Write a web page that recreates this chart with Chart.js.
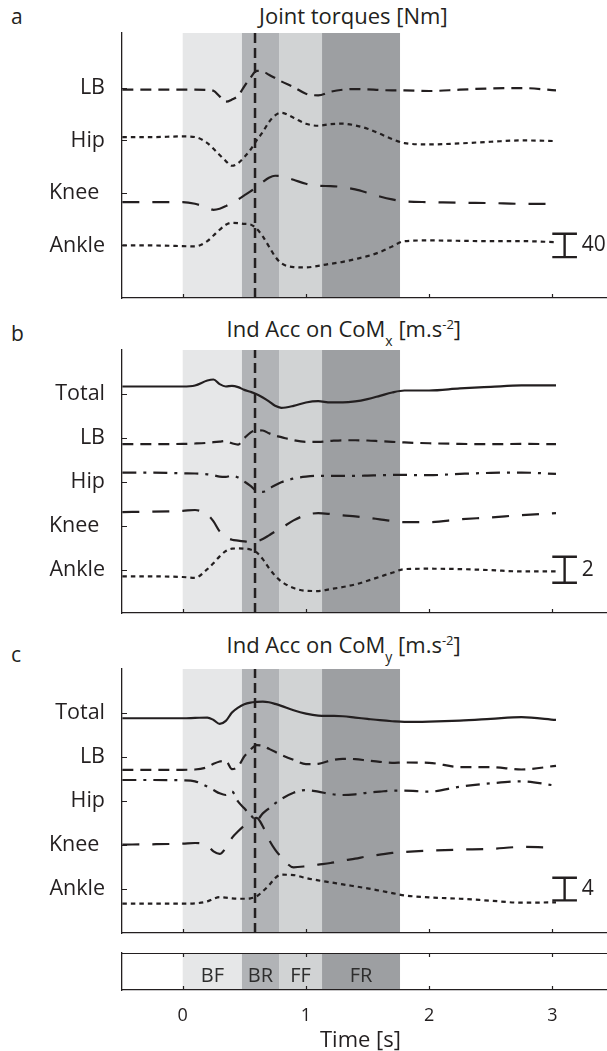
<!DOCTYPE html>
<html>
<head>
<meta charset="utf-8">
<title>Joint torques and induced accelerations</title>
<script src="https://cdn.jsdelivr.net/npm/chart.js@4.4.1/dist/chart.umd.min.js"></script>
<style>
  html, body { margin: 0; padding: 0; background: #fff; }
  body { position: relative; width: 607px; height: 1051px; overflow: hidden;
         font-family: "Open Sans", sans-serif; color: #231f20; }
  canvas { position: absolute; left: 0; }
  .txt { position: absolute; white-space: nowrap; line-height: 1; font-size: 22px; }
  .sb { font-size: 14px; position: relative; top: 9px; }
  .sp { font-size: 13px; position: relative; top: -8px; }
</style>
</head>
<body>
<div class="txt" style="left:11px;top:6.4px;font-size:21px">a</div>
<div class="txt" style="left:259px;top:3.5px">Joint torques [Nm]</div>
<canvas id="panelA" width="607" height="285" style="top:23px"></canvas>

<div class="txt" style="left:11px;top:323px;font-size:21px">b</div>
<div class="txt" style="left:226.5px;top:316.5px">Ind Acc on CoM<span class="sb">x</span> [m.s<span class="sp">-2</span>]</div>
<canvas id="panelB" width="607" height="283" style="top:340px"></canvas>

<div class="txt" style="left:11px;top:644px;font-size:21px">c</div>
<div class="txt" style="left:226.5px;top:633px">Ind Acc on CoM<span class="sb">y</span> [m.s<span class="sp">-2</span>]</div>
<canvas id="panelC" width="607" height="284" style="top:659px"></canvas>

<canvas id="phaseBar" width="607" height="108" style="top:943px"></canvas>
<div class="txt" style="left:320px;top:1027px">Time [s]</div>

<script>
// ---------- data ----------
const time = [-0.49, -0.25, 0, 0.1, 0.2, 0.25, 0.3, 0.35, 0.4, 0.45, 0.5, 0.55, 0.6, 0.65, 0.7, 0.75,
              0.8, 0.9, 1.0, 1.1, 1.2, 1.3, 1.4, 1.5, 1.6, 1.7, 1.8, 2.0, 2.25, 2.5, 2.75, 3.03];

const phaseNames = ['BF', 'BR', 'FF', 'FR'];
const phaseStart = [0, 0.481, 0.782, 1.131];
const phaseEnd = [0.481, 0.782, 1.131, 1.764];
const phaseColors = ['#e6e7e8', '#b1b3b6', '#d1d3d4', '#9d9fa2'];
const eventTime = 0.587;

const xTicks = [0, 1, 2, 3];
const xTickLabels = ['0', '1', '2', '3'];

// a - joint torques [Nm], each curve relative to its own row
const torqueLabels = ['Ankle', 'Knee ', 'Hip', 'LB'];
const torqueRows = [90, 180, 270, 360];
const torqueLB = [-3, -3, -3, -3, -3.5, -5, -14.6, -23.7, -20, -13.4, 2.6, 17.4, 29, 28, 22.6, 16.9,
                  11.1, 1.4, -10, -12.9, -6.6, -3.1, -2, -2.6, -3.7, -4.3, -4.3, -5.4, -3.1, -0.9, -0.3, -4.3];
const torqueHip = [5.7, 5.7, 6.9, 5.7, -4.6, -14.3, -25.1, -35.4, -43.4, -38.9, -28.6, -16, 0, 14.3, 31.4, 42.9,
                   47.4, 38.9, 28.6, 25.1, 28, 28.6, 25.7, 20, 11.4, 2.3, -4.6, -6.9, -5.1, -2.3, 0, -1.1];
const torqueKnee = [-15.7, -15.7, -15.7, -18.6, -25.4, -28.9, -27.1, -22.6, -16.9, -11.1, -4.3, 2.6, 10, 18.6, 26, 29.4,
                    28.9, 22.6, 15.7, 12.3, 11.7, 10, 6, 0.3, -6, -11.1, -14.6, -15.7, -16.9, -17.4, -18.6, -18.6];
const torqueAnkle = [0, 0, -1.1, -1.7, 7.4, 17.1, 26.9, 35.4, 38.9, 38.3, 37.1, 36, 28.6, 15.4, -1.7, -18.9,
                     -30.3, -37.1, -37.7, -34.9, -31.4, -28, -23.4, -18.3, -11.4, -1.7, 7.4, 8.6, 8, 7.4, 7.4, 5.7];
const torqueBar = 40;

// b - induced acceleration on CoM x [m/s2]
const accLabels = ['Ankle', 'Knee ', 'Hip', 'LB', 'Total'];
const accxRows = [3.33, 6.72, 10.12, 13.51, 16.85];
const accxTotal = [0.59, 0.59, 0.59, 0.67, 1.05, 1.13, 0.77, 0.59, 0.64, 0.54, 0.33, 0.18, 0, -0.26, -0.56, -0.9,
                   -1.05, -0.9, -0.64, -0.54, -0.64, -0.64, -0.56, -0.38, -0.13, 0.13, 0.28, 0.28, 0.44, 0.56, 0.67, 0.67];
const accxLB = [-0.51, -0.51, -0.49, -0.46, -0.41, -0.36, -0.31, -0.26, -0.44, -0.54, -0.05, 0.38, 0.56, 0.54, 0.33, 0.15,
                0.03, -0.21, -0.33, -0.33, -0.26, -0.21, -0.21, -0.23, -0.28, -0.33, -0.38, -0.44, -0.49, -0.51, -0.49, -0.51];
const accxHip = [0.69, 0.69, 0.64, 0.62, 0.56, 0.49, 0.38, 0.36, 0.46, 0.31, 0, -0.33, -0.72, -0.79, -0.54, -0.28,
                 -0.05, 0.23, 0.38, 0.44, 0.44, 0.44, 0.44, 0.46, 0.49, 0.51, 0.51, 0.49, 0.59, 0.67, 0.69, 0.59];
const accxKnee = [1.05, 1.08, 1.15, 1.21, 0.85, 0.33, -0.44, -0.87, -1.08, -1.15, -1.21, -1.26, -1.21, -1.03, -0.74, -0.44,
                  -0.18, 0.41, 0.82, 0.97, 0.9, 0.79, 0.72, 0.62, 0.49, 0.36, 0.28, 0.28, 0.49, 0.64, 0.82, 0.97];
const accxAnkle = [-0.51, -0.51, -0.56, -0.62, 0.05, 0.51, 1.03, 1.44, 1.62, 1.64, 1.62, 1.56, 1.33, 0.82, 0.13, -0.46,
                   -0.9, -1.41, -1.62, -1.64, -1.49, -1.33, -1.13, -0.85, -0.54, -0.23, 0.05, 0.08, 0.05, -0.03, -0.13, -0.13];
const accxBar = 2;

// c - induced acceleration on CoM y [m/s2]
const accyRows = [7.76, 15.6, 23.3, 31.1, 38.85];
const accyTotal = [-0.94, -0.94, -0.94, -0.88, -0.82, -1.24, -1.94, -1.41, 0.06, 0.94, 1.53, 1.82, 1.94, 2, 1.88, 1.59,
                   1.24, 0.47, -0.12, -0.47, -0.53, -0.59, -0.82, -1.06, -1.29, -1.47, -1.59, -1.53, -1.35, -1.06, -0.76, -1.24];
const accyLB = [-2.29, -2.29, -2.29, -2.24, -1.82, -1.24, -0.82, -0.71, -2.18, -1.71, 0.06, 1.24, 2.06, 1.94, 1.41, 0.88,
                0.35, -0.53, -1.29, -1.24, -0.65, -0.35, -0.41, -0.65, -0.88, -1.06, -1, -1.06, -1.82, -1.82, -2.24, -1.59];
const accyHip = [3.71, 3.71, 3.65, 3.47, 2.53, 1.94, 1.35, 1.06, 1.65, -0.12, -1.29, -2.47, -3.35, -2.18, -1.29, -0.41,
                 0.35, 1.47, 1.94, 1.65, 1.24, 1.06, 1.18, 1.47, 1.65, 1.82, 1.82, 1.65, 2.53, 3.12, 3.47, 2.71];
const accyKnee = [0, 0.06, 0.18, 0.29, -0.18, -1.18, -1.65, -0.59, 1.18, 2.35, 3.35, 4.12, 4.71, 3.24, 0.88, -0.88,
                  -2.18, -4, -3.82, -3.53, -3.24, -2.82, -2.47, -2.06, -1.76, -1.47, -1.29, -1.06, -0.88, -0.76, -0.41, -0.53];
const accyAnkle = [-2.59, -2.59, -2.59, -2.53, -2.18, -1.71, -1.41, -1.53, -1.65, -1.71, -1.71, -1.65, -1.29, -0.41, 0.65, 1.94,
                   2.53, 2.47, 1.94, 1.53, 1.18, 0.82, 0.47, 0.12, -0.29, -0.71, -1.12, -1.47, -1.71, -2.06, -2.41, -2.35];
const accyBar = 4;

// ---------- styling ----------
const ink = '#231f20';
const DOT = [4.5, 4], DASH = [11, 7], LONG = [17, 13], DASHDOT = [14, 7, 3, 7], SOLID = [];
const xMin = -0.4927, xMax = 3.444;
const barX = [3.0, 3.1, 3.2];
const barLabelX = 3.24;

Chart.defaults.font.family = '"Open Sans", sans-serif';
Chart.defaults.color = ink;

// phase shading behind everything
const phasePlugin = {
  id: 'phases',
  beforeDraw(chart) {
    const { ctx, chartArea: a, scales: { x } } = chart;
    ctx.save();
    phaseStart.forEach((s, i) => {
      const x0 = x.getPixelForValue(s), x1 = x.getPixelForValue(phaseEnd[i]);
      ctx.fillStyle = phaseColors[i];
      ctx.fillRect(x0, a.top, x1 - x0, a.bottom - a.top);
    });
    ctx.restore();
  }
};

// matlab style ticks pointing into the axes
const tickPlugin = {
  id: 'inTicks',
  afterDraw(chart, args, opts) {
    const { ctx, chartArea: a, scales: { x, y } } = chart;
    ctx.save();
    ctx.strokeStyle = ink;
    ctx.lineWidth = 1.2;
    ctx.beginPath();
    xTicks.forEach(v => {
      const px = Math.round(x.getPixelForValue(v)) + 0.5;
      ctx.moveTo(px, a.bottom); ctx.lineTo(px, a.bottom - 4);
      if (opts.top) { ctx.moveTo(px, a.top); ctx.lineTo(px, a.top + 4); }
    });
    if (!opts.noY) {
      y.ticks.forEach(t => {
        const py = Math.round(y.getPixelForValue(t.value)) + 0.5;
        ctx.moveTo(a.left, py); ctx.lineTo(a.left + 5, py);
      });
    }
    if (opts.top) { ctx.moveTo(a.left, a.top + 0.5); ctx.lineTo(a.right, a.top + 0.5); }
    ctx.stroke();
    ctx.restore();
  }
};

// text next to the scale bar, or the phase names in the bottom strip
const textPlugin = {
  id: 'extraText',
  afterDraw(chart, args, opts) {
    const { ctx, chartArea: a, scales: { x, y } } = chart;
    ctx.save();
    ctx.fillStyle = ink;
    if (opts.bar) {
      ctx.font = '21px "Open Sans"';
      ctx.textAlign = 'left';
      ctx.textBaseline = 'middle';
      ctx.fillText(opts.bar.text, x.getPixelForValue(barLabelX), y.getPixelForValue(opts.bar.value));
    }
    if (opts.phases) {
      ctx.font = '20px "Open Sans"';
      ctx.fillStyle = '#2e2e2e';
      ctx.textAlign = 'center';
      ctx.textBaseline = 'alphabetic';
      phaseNames.forEach((n, i) => {
        ctx.fillText(n, x.getPixelForValue((phaseStart[i] + phaseEnd[i]) / 2), a.bottom - 8.5);
      });
    }
    ctx.restore();
  }
};

function xScale(showLabels) {
  return {
    type: 'linear', min: xMin, max: xMax,
    grid: { display: false, drawTicks: false },
    border: { display: true, color: ink, width: 1.3 },
    ticks: {
      display: showLabels, autoSkip: false, padding: 15, font: { size: 18 }, color: ink,
      callback: (v, i) => xTickLabels[i]
    },
    afterBuildTicks: s => { s.ticks = xTicks.map(v => ({ value: v })); },
    afterFit: s => { s.height = showLabels ? 61 : 0; s.paddingLeft = 0; s.paddingRight = 0; }
  };
}

function curve(rowValue, values, dash) {
  return {
    data: time.map((t, k) => ({ x: t, y: rowValue + values[k] })),
    borderColor: ink, borderWidth: 2.2, borderDash: dash,
    cubicInterpolationMode: 'monotone', pointRadius: 0, fill: false
  };
}

function drawPanel(id, p) {
  const datasets = p.series.map((vals, i) => curve(p.rows[i], vals, p.dashes[i]));
  const lo = p.rows[0] - p.bar / 2, hi = p.rows[0] + p.bar / 2;
  // event marker
  datasets.push({
    data: [{ x: eventTime, y: 0 }, { x: eventTime, y: p.ymax }],
    borderColor: ink, borderWidth: 2.5, borderDash: [10, 5], tension: 0, pointRadius: 0
  });
  // scale bar (I shape)
  datasets.push({
    data: [{ x: barX[0], y: lo }, { x: barX[2], y: lo }, { x: barX[1], y: null },
           { x: barX[1], y: lo }, { x: barX[1], y: hi }, { x: barX[1], y: null },
           { x: barX[0], y: hi }, { x: barX[2], y: hi }],
    borderColor: ink, borderWidth: 2.4, tension: 0, pointRadius: 0, spanGaps: false
  });

  new Chart(document.getElementById(id), {
    type: 'line',
    data: { datasets },
    options: {
      responsive: false, animation: false, devicePixelRatio: 1,
      layout: { padding: { top: 10, bottom: 10, left: 0, right: 0 } },
      plugins: {
        legend: { display: false }, tooltip: { enabled: false },
        inTicks: {}, extraText: { bar: { text: String(p.bar), value: p.rows[0] } }
      },
      scales: {
        x: xScale(false),
        y: {
          type: 'linear', min: 0, max: p.ymax,
          grid: { display: false, drawTicks: false },
          border: { display: true, color: ink, width: 1.3 },
          ticks: { autoSkip: false, padding: 17, font: { size: 21.5 }, color: ink,
                   callback: (v, i) => p.labels[i] },
          afterBuildTicks: s => { s.ticks = p.rows.map(v => ({ value: v })); },
          afterFit: s => { s.width = 122; s.paddingTop = 0; s.paddingBottom = 0; }
        }
      }
    },
    plugins: [phasePlugin, tickPlugin, textPlugin]
  });
}

drawPanel('panelA', {
  rows: torqueRows, labels: torqueLabels, ymax: 454, bar: torqueBar,
  series: [torqueAnkle, torqueKnee, torqueHip, torqueLB],
  dashes: [DOT, LONG, DOT, DASH]
});

drawPanel('panelB', {
  rows: accxRows, labels: accLabels, ymax: 20.25, bar: accxBar,
  series: [accxAnkle, accxKnee, accxHip, accxLB, accxTotal],
  dashes: [DOT, LONG, DASHDOT, DASH, SOLID]
});

drawPanel('panelC', {
  rows: accyRows, labels: accLabels, ymax: 46.6, bar: accyBar,
  series: [accyAnkle, accyKnee, accyHip, accyLB, accyTotal],
  dashes: [DOT, LONG, DASHDOT, DASH, SOLID]
});

// bottom strip with the phase names and the time axis
new Chart(document.getElementById('phaseBar'), {
  type: 'line',
  data: { datasets: [] },
  options: {
    responsive: false, animation: false, devicePixelRatio: 1,
    layout: { padding: { top: 10, bottom: 0, left: 0, right: 0 } },
    plugins: {
      legend: { display: false }, tooltip: { enabled: false },
      inTicks: { top: true, noY: true }, extraText: { phases: true }
    },
    scales: {
      x: xScale(true),
      y: {
        type: 'linear', min: 0, max: 1,
        grid: { display: false, drawTicks: false },
        border: { display: true, color: ink, width: 1.3 },
        ticks: { display: false },
        afterFit: s => { s.width = 122; s.paddingTop = 0; s.paddingBottom = 0; }
      }
    }
  },
  plugins: [phasePlugin, tickPlugin, textPlugin]
});
</script>
</body>
</html>
